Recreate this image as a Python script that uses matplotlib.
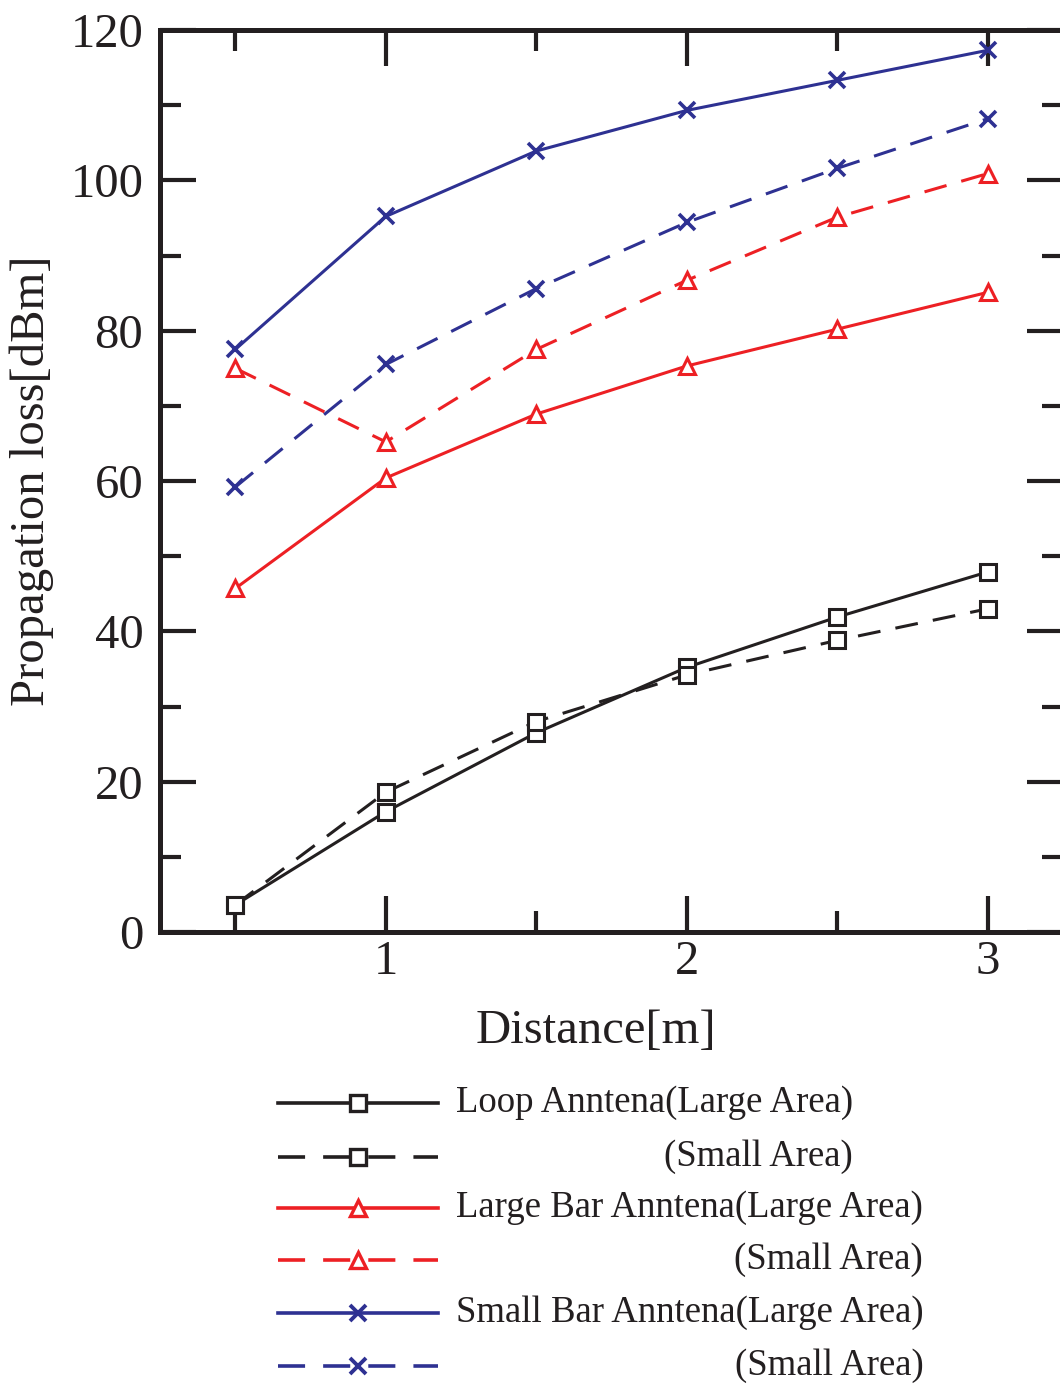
import matplotlib
matplotlib.use("Agg")
import matplotlib.pyplot as plt
from matplotlib.ticker import MultipleLocator

plt.rcParams['font.family'] = ['Liberation Serif', 'DejaVu Serif']

# data
distance = [0.5, 1.0, 1.5, 2.0, 2.5, 3.0]
loop_large = [3.6, 16.0, 26.5, 35.2, 41.9, 47.9]
loop_small = [3.6, 18.6, 28.0, 34.2, 38.8, 43.0]
lbar_large = [45.7, 60.4, 68.9, 75.3, 80.2, 85.1]
lbar_small = [75.0, 65.2, 77.5, 86.7, 95.1, 100.9]
sbar_large = [77.5, 95.2, 103.9, 109.3, 113.3, 117.3]
sbar_small = [59.2, 75.5, 85.6, 94.4, 101.6, 108.2]

labels = ["Loop Anntena(Large Area)", "(Small Area)",
          "Large Bar Anntena(Large Area)", "(Small Area)",
          "Small Bar Anntena(Large Area)", "(Small Area)"]

black = '#231f20'
red = '#ed2024'
blue = '#2e3192'
dash = (0, (7.5, 5))

series = [
    (loop_large, black, 's', '-'),
    (loop_small, black, 's', dash),
    (lbar_large, red, '^', '-'),
    (lbar_small, red, '^', dash),
    (sbar_large, blue, 'x', '-'),
    (sbar_small, blue, 'x', dash),
]

def msize(m):
    return {'s': 11, '^': 12, 'x': 12}[m]

W, H = 1060, 1387
fig = plt.figure(figsize=(W / 100, H / 100), dpi=100)
ax = fig.add_axes([160 / W, (H - 932) / H, (1063 - 160) / W, 902 / H])

for ys, c, m, ls in series:
    ax.plot(distance, ys, color=c, linestyle=ls, linewidth=2.2, marker=m,
            markersize=msize(m), markerfacecolor='white',
            markeredgecolor=c, markeredgewidth=2.6 if m == 'x' else 2.2, zorder=3)

ax.set_xlim(0.25, 3.25)
ax.set_ylim(0, 120)
ax.xaxis.set_major_locator(MultipleLocator(1))
ax.xaxis.set_minor_locator(MultipleLocator(0.5))
ax.yaxis.set_major_locator(MultipleLocator(20))
ax.yaxis.set_minor_locator(MultipleLocator(10))
ax.tick_params(which='both', direction='in', top=True, right=True,
               width=3, color=black, labelcolor=black, labelsize=35)
ax.tick_params(which='major', length=26)
ax.tick_params(which='minor', length=15)
ax.tick_params(axis='y', pad=12)
ax.tick_params(axis='x', pad=6)
for s in ax.spines.values():
    s.set_linewidth(3.6)
    s.set_color(black)

ax.set_xlabel('Distance[m]', fontsize=35, color=black, labelpad=20)
ax.xaxis.set_label_coords(0.483, -0.085)
ax.set_ylabel('Propagation loss[dBm]', fontsize=35, color=black, labelpad=12)

# legend drawn by hand below the plot
lg = fig.add_axes([0, 0, 1, 1])
lg.set_xlim(0, W)
lg.set_ylim(H, 0)
lg.axis('off')
rows = [1103, 1157, 1208, 1260, 1313, 1366]
hx = [278, 358, 438]
fig.canvas.draw()
renderer = fig.canvas.get_renderer()
right_edge = None
for i, ((ys, c, m, ls), lab, ry) in enumerate(zip(series, labels, rows)):
    lg.plot(hx, [ry] * 3, color=c, linestyle=ls, linewidth=2.6, marker=m,
            markevery=[1], markersize=msize(m),
            markerfacecolor='white', markeredgecolor=c,
            markeredgewidth=2.8 if m == 'x' else 2.4)
    if i % 2 == 0:
        t = lg.text(456, ry, lab, fontsize=26.5, color=black, ha='left', va='center')
        bb = t.get_window_extent(renderer)
        right_edge = bb.x1
    else:
        lg.text(right_edge, ry, lab, fontsize=26.5, color=black, ha='right', va='center')

fig.savefig('out.png', dpi=100)
